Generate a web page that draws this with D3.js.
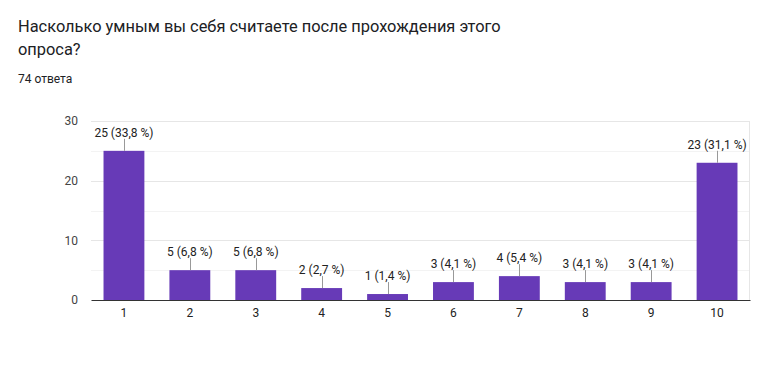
<!DOCTYPE html>
<html>
<head>
<meta charset="utf-8">
<script src="https://cdn.jsdelivr.net/npm/d3@7"></script>
<style>
  body { margin: 0; background: #fff; font-family: Roboto, Arial, sans-serif; }
  svg text { font-family: Roboto, Arial, sans-serif; }
</style>
</head>
<body>
<div id="vis"></div>
<script>
var categories = ["1", "2", "3", "4", "5", "6", "7", "8", "9", "10"];
var counts = [25, 5, 5, 2, 1, 3, 4, 3, 3, 23];
var labels = ["25 (33,8 %)", "5 (6,8 %)", "5 (6,8 %)", "2 (2,7 %)", "1 (1,4 %)",
              "3 (4,1 %)", "4 (5,4 %)", "3 (4,1 %)", "3 (4,1 %)", "23 (31,1 %)"];
var yTicks = [0, 10, 20, 30];
var yMinor = [5, 15, 25];

var width = 757, height = 371;
var margin = { top: 121, bottom: 71, left: 91, right: 7 };

var svg = d3.select('#vis')
    .append('svg')
    .attr('width', width)
    .attr('height', height);

svg.append('text')
    .attr('x', 18).attr('y', 32)
    .attr('font-size', 16.4).attr('fill', '#202124')
    .text('Насколько умным вы себя считаете после прохождения этого');
svg.append('text')
    .attr('x', 18).attr('y', 55)
    .attr('font-size', 16.4).attr('fill', '#202124')
    .text('опроса?');
svg.append('text')
    .attr('x', 18).attr('y', 83)
    .attr('font-size', 12).attr('fill', '#202124')
    .text('74 ответа');

var w = width - margin.left - margin.right;
var h = height - margin.top - margin.bottom;

var g = svg.append('g')
    .attr('transform', 'translate(' + margin.left + ',' + margin.top + ')');

var x_scale = d3.scaleBand()
    .domain(categories)
    .range([0, w])
    .paddingInner(0.38)
    .paddingOuter(0.19);

var y_scale = d3.scaleLinear()
    .domain([0, 30])
    .range([h, 0]);

// grid
g.selectAll('.minor')
    .data(yMinor)
    .enter().append('line')
    .attr('x1', 0).attr('x2', w)
    .attr('y1', function(d) { return Math.round(y_scale(d)) + 0.5; })
    .attr('y2', function(d) { return Math.round(y_scale(d)) + 0.5; })
    .attr('stroke', '#f3f3f3');

g.selectAll('.major')
    .data(yTicks.slice(1))
    .enter().append('line')
    .attr('x1', 0).attr('x2', w)
    .attr('y1', function(d) { return Math.round(y_scale(d)) + 0.5; })
    .attr('y2', function(d) { return Math.round(y_scale(d)) + 0.5; })
    .attr('stroke', '#e6e6e6');

g.append('line')
    .attr('x1', w - 0.5).attr('x2', w - 0.5)
    .attr('y1', 0).attr('y2', h)
    .attr('stroke', '#e6e6e6');

// y labels
var y_axis = d3.axisLeft(y_scale).tickValues(yTicks).tickSize(0).tickPadding(13);
g.append('g')
    .attr('class', 'y axis')
    .call(y_axis)
    .call(function(a) {
        a.select('.domain').remove();
        a.selectAll('text').attr('font-size', 12).attr('fill', '#444');
    });

// bars
g.selectAll('.bar')
    .data(counts)
    .enter().append('rect')
    .attr('class', 'bar')
    .attr('x', function(d, i) { return x_scale(categories[i]); })
    .attr('width', x_scale.bandwidth())
    .attr('y', function(d) { return y_scale(d); })
    .attr('height', function(d) { return h - y_scale(d); })
    .attr('fill', '#673ab7');

// leader lines + labels
g.selectAll('.leader')
    .data(counts)
    .enter().append('line')
    .attr('x1', function(d, i) { return Math.round(x_scale(categories[i]) + x_scale.bandwidth() / 2) + 0.5; })
    .attr('x2', function(d, i) { return Math.round(x_scale(categories[i]) + x_scale.bandwidth() / 2) + 0.5; })
    .attr('y1', function(d) { return y_scale(d); })
    .attr('y2', function(d) { return y_scale(d) - 12; })
    .attr('stroke', '#999');

g.selectAll('.lbl')
    .data(labels)
    .enter().append('text')
    .attr('x', function(d, i) { return x_scale(categories[i]) + x_scale.bandwidth() / 2; })
    .attr('y', function(d, i) { return y_scale(counts[i]) - 14; })
    .attr('text-anchor', 'middle')
    .attr('font-size', 12)
    .attr('fill', '#222')
    .text(function(d) { return d; });

// x axis
var x_axis = d3.axisBottom(x_scale).tickSize(0).tickPadding(8);
g.append('g')
    .attr('class', 'x axis')
    .attr('transform', 'translate(0,' + h + ')')
    .call(x_axis)
    .call(function(a) {
        a.select('.domain').attr('stroke', '#333').attr('stroke-width', 1.2);
        a.selectAll('text').attr('font-size', 12).attr('fill', '#222');
    });
</script>
</body>
</html>
